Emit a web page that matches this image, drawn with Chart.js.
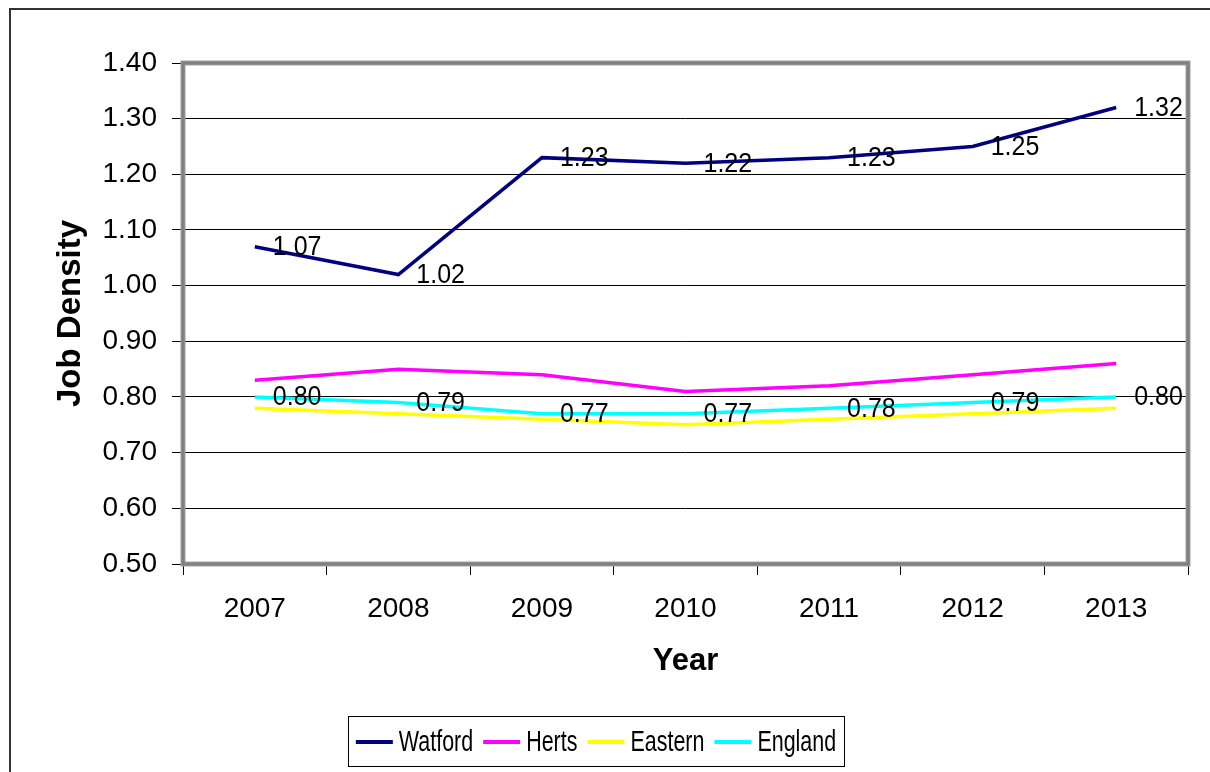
<!DOCTYPE html>
<html><head><meta charset="utf-8">
<script src="https://cdn.jsdelivr.net/npm/chart.js@4.4.1/dist/chart.umd.min.js"></script>
<style>html,body{margin:0;padding:0;background:#fff;overflow:hidden}</style>
</head><body>
<canvas id="c" width="1210" height="772" style="width:1210px;height:772px;display:block"></canvas>
<script>
const years = ['2007','2008','2009','2010','2011','2012','2013'];
const watford = [1.07,1.02,1.23,1.22,1.23,1.25,1.32];
const herts   = [0.83,0.85,0.84,0.81,0.82,0.84,0.86];
const eastern = [0.78,0.77,0.76,0.75,0.76,0.77,0.78];
const england = [0.80,0.79,0.77,0.77,0.78,0.79,0.80];
const seriesNames = ['Watford','Herts','Eastern','England'];
const labelledSeries = ['Watford','England'];
const yMin = 0.5, yMax = 1.4, yStep = 0.1;

const FONT = "'Liberation Sans', Arial, sans-serif";

const framePlugin = {
  id: 'frame',
  beforeDraw(chart) {
    const ctx = chart.ctx;
    ctx.save();
    ctx.fillStyle = '#fff';
    ctx.fillRect(0,0,chart.width,chart.height);
    ctx.strokeStyle = '#333';
    ctx.lineWidth = 2;
    ctx.beginPath();
    ctx.moveTo(10, chart.height);
    ctx.lineTo(10, 9);
    ctx.lineTo(chart.width, 9);
    ctx.stroke();
    ctx.restore();
  }
};

const plotBorderPlugin = {
  id: 'plotBorder',
  beforeDatasetsDraw(chart) {
    const {ctx, chartArea: a} = chart;
    ctx.save();
    ctx.strokeStyle = '#a0a0a0';
    ctx.lineWidth = 5;
    ctx.strokeRect(a.left, a.top, a.right - a.left, a.bottom - a.top);
    ctx.strokeStyle = '#808080';
    ctx.lineWidth = 3;
    ctx.strokeRect(a.left, a.top, a.right - a.left, a.bottom - a.top);
    ctx.restore();
  }
};

const dataLabelPlugin = {
  id: 'dataLabels',
  afterDatasetsDraw(chart) {
    const ctx = chart.ctx;
    ctx.save();
    ctx.font = '25px ' + FONT;
    ctx.fillStyle = '#000';
    ctx.textAlign = 'left';
    ctx.textBaseline = 'middle';
    chart.data.datasets.forEach((ds, i) => {
      if (!labelledSeries.includes(ds.label)) return;
      const meta = chart.getDatasetMeta(i);
      meta.data.forEach((pt, j) => {
        ctx.save();
        ctx.translate(pt.x + 18, pt.y + 1);
        ctx.scale(1, 1.08);
        ctx.fillText(ds.data[j].toFixed(2), 0, 0);
        ctx.restore();
      });
    });
    ctx.restore();
  }
};

const legendPlugin = {
  id: 'customLegend',
  afterDraw(chart) {
    const ctx = chart.ctx;
    const sx = 0.74;
    ctx.save();
    ctx.font = '29px ' + FONT;
    const lineLen = 37, gapLT = 6, gapItem = 10;
    const items = chart.data.datasets.map(ds => ({label: ds.label, color: ds.borderColor, w: ctx.measureText(ds.label).width * sx}));
    let total = 0;
    items.forEach((it, k) => { total += lineLen + gapLT + it.w + (k < items.length - 1 ? gapItem : 0); });
    const boxL = 348, boxR = 844, boxT = 716, boxB = 766;
    ctx.strokeStyle = '#000';
    ctx.lineWidth = 1;
    ctx.strokeRect(boxL + 0.5, boxT + 0.5, boxR - boxL, boxB - boxT);
    let x = (boxL + boxR) / 2 - total / 2;
    const cy = 742;
    items.forEach(it => {
      ctx.strokeStyle = it.color;
      ctx.lineWidth = 4;
      ctx.beginPath();
      ctx.moveTo(x, cy);
      ctx.lineTo(x + lineLen, cy);
      ctx.stroke();
      x += lineLen + gapLT;
      ctx.save();
      ctx.translate(x, cy);
      ctx.scale(sx, 1);
      ctx.fillStyle = '#000';
      ctx.textAlign = 'left';
      ctx.textBaseline = 'middle';
      ctx.fillText(it.label, 0, 1);
      ctx.restore();
      x += it.w + gapItem;
    });
    ctx.restore();
  }
};

const colors = ['#000080','#FF00FF','#FFFF00','#00FFFF'];
const allData = [watford, herts, eastern, england];

new Chart(document.getElementById('c'), {
  type: 'line',
  data: {
    labels: years,
    datasets: seriesNames.map((n, i) => ({
      label: n,
      data: allData[i],
      borderColor: colors[i],
      backgroundColor: colors[i],
      borderWidth: 3.5,
      pointRadius: 0,
      tension: 0,
      fill: false
    }))
  },
  options: {
    responsive: false,
    animation: false,
    devicePixelRatio: 1,
    layout: { padding: { top: 63, right: 22, bottom: 78, left: 0 } },
    plugins: { legend: { display: false }, tooltip: { enabled: false } },
    scales: {
      x: {
        offset: true,
        grid: { offset: true, drawOnChartArea: false, drawTicks: true, tickLength: 11, color: '#000', lineWidth: 1 },
        border: { display: false },
        ticks: { color: '#000', font: { family: FONT, size: 28 }, padding: 17, maxRotation: 0 },
        title: { display: true, text: 'Year', color: '#000', font: { family: FONT, size: 31, weight: 'bold' }, padding: { top: 0, bottom: 14 } },
        afterFit(s) { s.height = 130; }
      },
      y: {
        min: yMin, max: yMax,
        grid: { color: '#000', lineWidth: 1, drawTicks: true, tickLength: 11 },
        border: { display: false },
        ticks: { stepSize: yStep, color: '#000', font: { family: FONT, size: 28 }, padding: 15, callback: v => Number(v).toFixed(2) },
        title: { display: true, text: 'Job Density', color: '#000', font: { family: FONT, size: 33, weight: 'bold' }, padding: { top: 51, bottom: 0 } },
        afterFit(s) { s.width = 183; }
      }
    }
  },
  plugins: [framePlugin, plotBorderPlugin, dataLabelPlugin, legendPlugin]
});
</script>
</body></html>
